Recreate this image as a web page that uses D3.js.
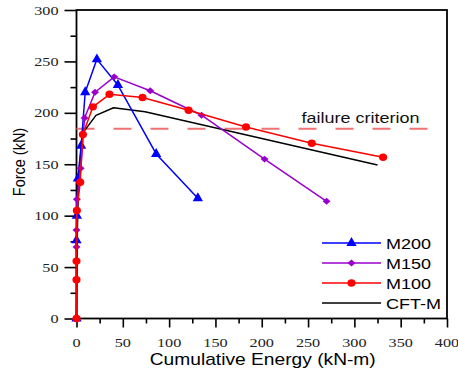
<!DOCTYPE html>
<html>
<head>
<meta charset="utf-8">
<script src="https://cdn.jsdelivr.net/npm/d3@7"></script>
<style>
  html, body { margin: 0; padding: 0; background: #fff; }
  svg { display: block; }
</style>
</head>
<body>
<svg id="chart" width="458" height="372"></svg>
<script>
// Cumulative energy (kN-m) and force (kN) for each specimen
const m200Energy = [0, 0, 0.4, 1.5, 5, 9.4, 22, 44.7, 86, 131];
const m200Force  = [0, 76, 100, 136, 168, 220, 252, 227, 160, 117];

const m150Energy = [0, 0, 0, 0.4, 4.5, 8.7, 20, 40.7, 79.6, 135, 203, 270];
const m150Force  = [0, 69.5, 86, 116, 146, 195, 220, 235, 221.5, 197.7, 155, 114];

const m100Energy = [0, 0, 0, 0.4, 4, 6.9, 17.7, 35.6, 71.3, 121, 183, 254, 331];
const m100Force  = [0, 37.7, 55.8, 105, 132.4, 179, 205.8, 218, 215, 202.5, 186.3, 170.4, 156.8];

const cftEnergy = [0, 1, 2.5, 6.5, 21, 40, 74, 325];
const cftForce  = [0, 90, 140, 180, 197.5, 205, 201, 149.3];

const failureForce = 184.5;
const failureEnergy = [0, 380];
const failureLabel = "failure criterion";

const xTicks = [0, 50, 100, 150, 200, 250, 300, 350, 400];
const yTicks = [0, 50, 100, 150, 200, 250, 300];
const xMinor = [25, 75, 125, 175, 225, 275, 325, 375];
const yMinor = [25, 75, 125, 175, 225, 275];

const seriesNames  = ["M200", "M150", "M100", "CFT-M"];
const seriesColors = ["#0000ff", "#9900cc", "#ff0000", "#000000"];
const seriesShapes = ["triangle", "diamond", "circle", "none"];

const xTitle = "Cumulative Energy (kN-m)";
const yTitle = "Force (kN)";

// ---- layout ----
const W = 458, H = 372;
const margin = { left: 76.5, right: 11, top: 10, bottom: 53.5 };
const SX = 1.2; // horizontal stretch applied to the lettering

const svg = d3.select("#chart");
const x = d3.scaleLinear().domain([0, 400]).range([margin.left, W - margin.right]);
const y = d3.scaleLinear().domain([0, 300]).range([H - margin.bottom, margin.top]);

const sans = "'Liberation Sans', Arial, Helvetica, sans-serif";
const serif = "'Liberation Serif', 'Times New Roman', Times, serif";

// ---- axes ----
const xAxis = svg.append("g")
  .attr("transform", `translate(0,${y(0)})`)
  .call(d3.axisBottom(x).tickValues(xTicks).tickSize(9).tickFormat(""));
const xAxisMinor = svg.append("g")
  .attr("transform", `translate(0,${y(0)})`)
  .call(d3.axisBottom(x).tickValues(xMinor).tickSize(5).tickFormat(""));
const yAxis = svg.append("g")
  .attr("transform", `translate(${x(0)},0)`)
  .call(d3.axisLeft(y).tickValues(yTicks).tickSize(12).tickFormat(""));
const yAxisMinor = svg.append("g")
  .attr("transform", `translate(${x(0)},0)`)
  .call(d3.axisLeft(y).tickValues(yMinor).tickSize(6).tickFormat(""));

[xAxis, xAxisMinor, yAxis, yAxisMinor].forEach(g => {
  g.select(".domain").remove();
  g.selectAll(".tick line").attr("stroke", "#000").attr("stroke-width", 1.6);
});

// frame
svg.append("rect")
  .attr("x", x(0)).attr("y", y(300))
  .attr("width", x(400) - x(0)).attr("height", y(0) - y(300))
  .attr("fill", "none").attr("stroke", "#000").attr("stroke-width", 1.8);

// tick labels
svg.append("g").selectAll("text").data(xTicks).join("text")
  .attr("transform", d => `translate(${x(d)},${y(0) + 28}) scale(${SX},1)`)
  .attr("text-anchor", "middle")
  .attr("font-family", serif).attr("font-size", 13.5)
  .attr("fill", "#222")
  .text(d => d);

svg.append("g").selectAll("text").data(yTicks).join("text")
  .attr("transform", d => `translate(${x(0) - 18},${y(d) + 4.5}) scale(${SX},1)`)
  .attr("text-anchor", "end")
  .attr("font-family", serif).attr("font-size", 13.5)
  .attr("fill", "#222")
  .text(d => d);

// axis titles
svg.append("text")
  .attr("transform", `translate(${(x(0) + x(400)) / 2 + 1},365) scale(${SX},1)`)
  .attr("text-anchor", "middle")
  .attr("font-family", sans).attr("font-size", 16)
  .text(xTitle);

svg.append("text")
  .attr("transform", `translate(24.5,162) scale(${SX},1) rotate(-90)`)
  .attr("text-anchor", "middle")
  .attr("font-family", sans).attr("font-size", 14.5)
  .text(yTitle);

// ---- failure criterion ----
svg.append("line")
  .attr("x1", x(failureEnergy[0])).attr("x2", x(failureEnergy[1]))
  .attr("y1", y(failureForce)).attr("y2", y(failureForce))
  .attr("stroke", "#f07272").attr("stroke-width", 1.8)
  .attr("stroke-dasharray", "18,19");

svg.append("text")
  .attr("transform", `translate(${x(243)},${y(190)}) scale(${SX},1)`)
  .attr("font-family", sans).attr("font-size", 15)
  .attr("fill", "#111")
  .text(failureLabel);

// ---- series ----
const series = [
  { e: m200Energy, f: m200Force },
  { e: m150Energy, f: m150Force },
  { e: m100Energy, f: m100Force },
  { e: cftEnergy,  f: cftForce }
].map((s, i) => ({
  name: seriesNames[i], color: seriesColors[i], shape: seriesShapes[i],
  pts: s.e.map((v, k) => [v, s.f[k]])
}));

const line = d3.line().x(d => x(d[0])).y(d => y(d[1]));

// marker path plus an extra transform (the diamond is a square turned 45°)
const markerFor = shape => {
  if (shape === "triangle") return { d: d3.symbol().type(d3.symbolTriangle).size(46)(), t: "" };
  if (shape === "diamond") return { d: d3.symbol().type(d3.symbolSquare).size(24)(), t: " scale(1.15,1) rotate(45)" };
  if (shape === "circle") return { d: d3.symbol().type(d3.symbolCircle).size(44)(), t: " scale(1.08,1)" };
  return null;
};

// draw order: reference curve first, then M200, M150, M100 on top
[3, 0, 1, 2].forEach(i => {
  const s = series[i];
  const g = svg.append("g");
  g.append("path").datum(s.pts)
    .attr("d", line).attr("fill", "none")
    .attr("stroke", s.color).attr("stroke-width", 1.5)
    .attr("stroke-linejoin", "round");
  const mk = markerFor(s.shape);
  if (mk) {
    g.selectAll("path.mk").data(s.pts).join("path")
      .attr("class", "mk")
      .attr("transform", d => `translate(${x(d[0])},${y(d[1])})${mk.t}`)
      .attr("d", mk.d).attr("fill", s.color);
  }
});

// ---- legend ----
const legend = svg.append("g");
const legX0 = 322, legX1 = 381, legY0 = 243, legDY = 20;
series.forEach((s, i) => {
  const ly = legY0 + i * legDY;
  legend.append("line")
    .attr("x1", legX0).attr("x2", legX1).attr("y1", ly).attr("y2", ly)
    .attr("stroke", s.color).attr("stroke-width", 1.5);
  const mk = markerFor(s.shape);
  if (mk) {
    legend.append("path")
      .attr("transform", `translate(${(legX0 + legX1) / 2},${ly})${mk.t}`)
      .attr("d", mk.d).attr("fill", s.color);
  }
  legend.append("text")
    .attr("transform", `translate(386,${ly + 5.5}) scale(${SX},1)`)
    .attr("font-family", sans).attr("font-size", 15)
    .text(s.name);
});
</script>
</body>
</html>
